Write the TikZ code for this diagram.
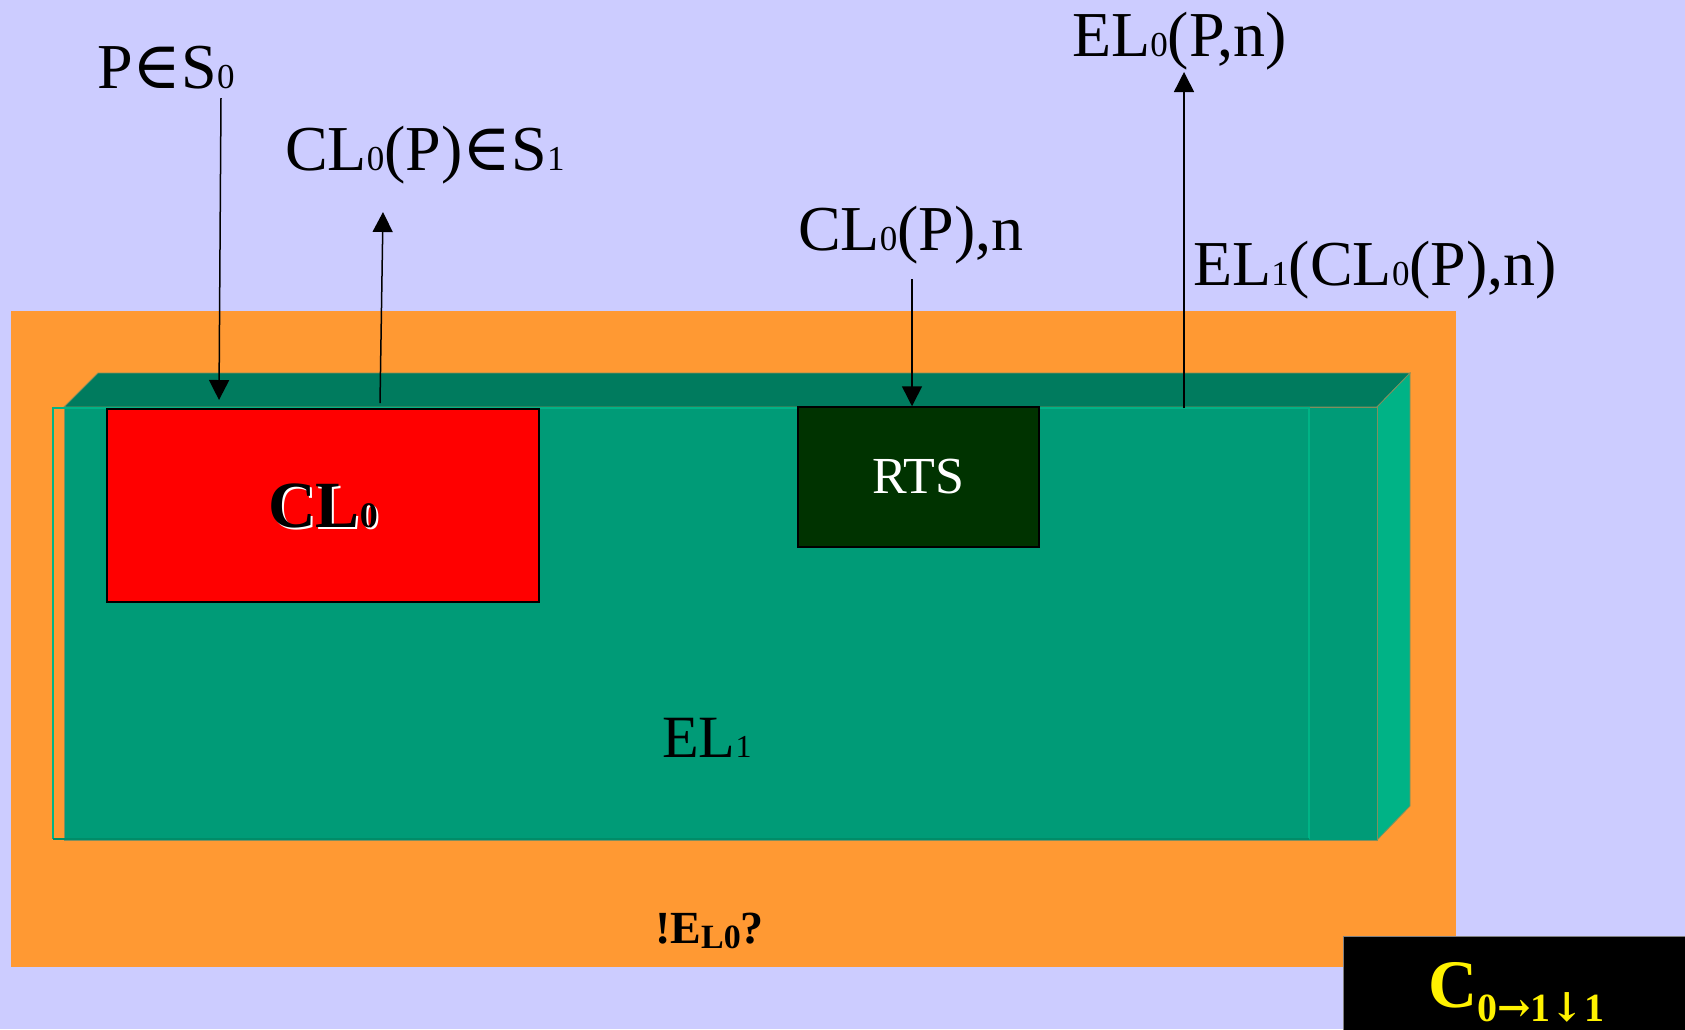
\documentclass[tikz,border=0pt]{standalone}
\usepackage{fontspec}
\setmainfont{Liberation Serif}
\newfontfamily\symfnt{DejaVu Serif}
\usetikzlibrary{arrows.meta,positioning}
\definecolor{lavbg}{HTML}{CCCCFF}
\definecolor{orbg}{HTML}{FF9933}
\definecolor{frontgr}{HTML}{009B77}
\definecolor{topgr}{HTML}{007B5E}
\definecolor{sidegr}{HTML}{00B386}
\definecolor{botgr}{HTML}{008C68}
\definecolor{rtsgr}{HTML}{003300}
\definecolor{edgecol}{HTML}{7F8F5F}
\newcommand{\lowdig}[2][35]{{\fontsize{#1}{#1}\selectfont #2}}
\newcommand{\elt}{{\symfnt\fontsize{66}{66}\selectfont ∈}}
\newcommand{\arrsym}[1]{{\symfnt\bfseries\fontsize{40}{40}\selectfont #1}}

\begin{document}
\begin{tikzpicture}[x=1pt,y=-1pt,
  lbl/.style={font=\fontsize{64}{70}\selectfont,anchor=base west,inner sep=0pt},
  arr/.style={-{Triangle[width=20pt,length=20pt]},line width=1.5pt},
  face/.style={draw=edgecol,line width=0.8pt}]
  \useasboundingbox (0,0) rectangle (1685,1029);
  \fill[lavbg] (0,0) rectangle (1685,1029);
  \fill[orbg] (11,311) rectangle (1456,967);
  \filldraw[face,fill=topgr] (64,407) -- (98,373) -- (1410,373) -- (1377,407) -- cycle;
  \filldraw[face,fill=sidegr] (1377,407) -- (1410,373) -- (1410,806) -- (1377,840) -- cycle;
  \filldraw[face,fill=frontgr] (64,407) rectangle (1377,840);
  \draw[sidegr,line width=2pt] (1309,839) -- (1309,408) -- (53,408) -- (53,839);
  \draw[botgr,line width=2pt] (53,839) -- (1309,839);
  \node[draw=black,line width=1.5pt,fill=red,minimum width=432pt,minimum height=193pt,inner sep=0pt] (cl) at (323,505.5) {};
  \node[text=white,font=\bfseries\fontsize{66}{70}\selectfont,inner sep=0pt] (clw) at ([shift={(2,2)}]cl.center) {CL\lowdig[36]{0}};
  \node[text=black,font=\bfseries\fontsize{66}{70}\selectfont,inner sep=0pt] (clt) at (cl.center) {CL\lowdig[36]{0}};
  \node[draw=black,line width=1.5pt,fill=rtsgr,minimum width=241pt,minimum height=140pt,inner sep=0pt,text=white,font=\fontsize{52}{60}\selectfont] (rts) at (918.5,477) {RTS};
  \node[lbl,font=\fontsize{60}{66}\selectfont] (el) at (662,757) {EL\lowdig[32]{1}};
  \node[lbl,font=\bfseries\fontsize{46}{50}\selectfont] (eq) at (655,943) {!E\raisebox{-5pt}{\fontsize{34}{34}\selectfont L0}?};
  \node[lbl] (pins) at (97,88) {P\elt S\lowdig{0}};
  \node[lbl] (clps) at (285,170) {CL\lowdig{0}(P)\elt S\lowdig{1}};
  \node[lbl] (elpn) at (1072,56) {EL\lowdig{0}(P,n)};
  \node[lbl] (clpn) at (798,250) {CL\lowdig{0}(P),n};
  \node[lbl] (elcl) at (1193,285) {EL\lowdig{1}(CL\lowdig{0}(P),n)};
  \coordinate (s1) at (221,98);
  \coordinate (e1) at (219,400);
  \coordinate (s2) at (380,403);
  \coordinate (e2) at (383,212);
  \coordinate (s3) at (912,279);
  \coordinate (s4) at (1184,408);
  \coordinate (e4) at (1184,72);
  \draw[arr] (s1) -- (e1);
  \draw[arr] (s2) -- (e2);
  \draw[arr] (s3) -- (s3 |- rts.north);
  \draw[arr] (s4) -- (e4);
  \node[draw=gray,line width=1pt,fill=black,anchor=north west,minimum width=360pt,minimum height=110pt] (cbox) at (1343,936) {};
  \node[lbl,text=yellow,font=\bfseries\fontsize{68}{70}\selectfont] (ctxt) at (1428,1007) {C\raisebox{-14pt}{\fontsize{40}{40}\selectfont 0\arrsym{→}1\arrsym{↓}1}};
\end{tikzpicture}
\end{document}
